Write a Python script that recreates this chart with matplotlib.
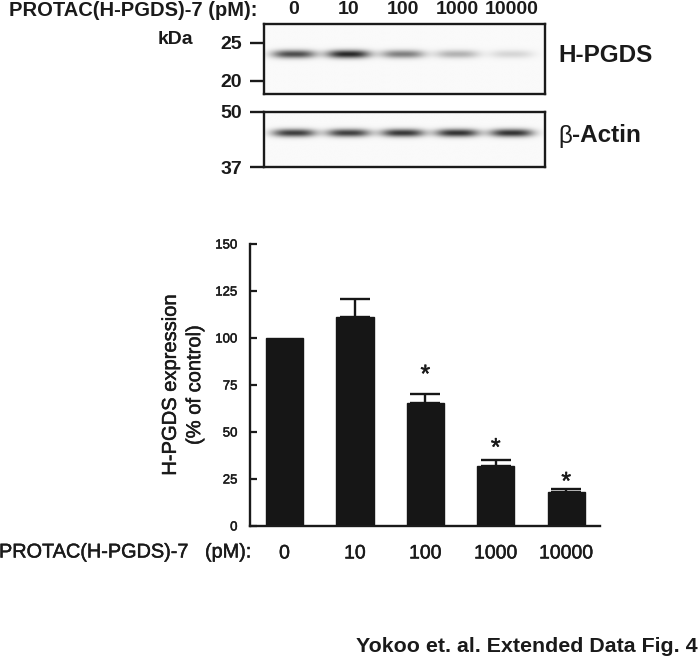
import numpy as np
import matplotlib
matplotlib.use("Agg")
import matplotlib.pyplot as plt
import matplotlib.patheffects as pe
from matplotlib import font_manager

# Densitometry: H-PGDS expression (% of control), mean and upper SEM
doses = ["0", "10", "100", "1000", "10000"]
expression = [100, 111.3, 65.6, 31.9, 17.9]
sem = [0, 9.6, 4.6, 3.0, 1.6]
significant = [False, False, True, True, True]
star_y = [0, 0, 84, 45, 27]

# Western blot band strengths (relative)
hpgds_band = [0.78, 0.95, 0.55, 0.32, 0.16]
actin_band = [0.85, 0.84, 0.88, 0.90, 0.90]
hpgds_markers = ["25", "20"]
hpgds_marker_pos = [0.73, 0.19]
actin_markers = ["50", "37"]
actin_marker_pos = [1.0, 0.0]

names = {f.name for f in font_manager.fontManager.ttflist}
base = "Liberation Sans" if "Liberation Sans" in names else "DejaVu Sans"
narrow = "Liberation Sans Narrow" if "Liberation Sans Narrow" in names else None
plt.rcParams["font.family"] = [base, "DejaVu Sans"]

# regular text in the figure looks a bit heavier than a plain regular face
heavy = [pe.withStroke(linewidth=0.35, foreground="#1a1a1a")]
ink = "#1a1a1a"

W, H = 700, 661
fig = plt.figure(figsize=(7, 6.61), dpi=100)


def fx(px):
    return px / W


def fy(py):
    return 1 - py / H


def draw_blot(ax, vals, band_y, sy, xlim):
    xs = np.linspace(xlim[0], xlim[1], 600)
    ys = np.linspace(0, 1, 160)
    X, Y = np.meshgrid(xs, ys)
    img = np.full_like(X, 0.025)
    for i, v in enumerate(vals):
        img += v * np.exp(-np.abs((X - i) / 0.40) ** 3) * np.exp(-0.5 * ((Y - band_y) / sy) ** 2)
    ax.imshow(img, cmap="gray_r", vmin=0, vmax=1.15, origin="lower",
              extent=(xlim[0], xlim[1], 0, 1), aspect="auto", interpolation="bilinear")
    ax.set_xlim(*xlim)
    ax.set_ylim(0, 1)
    for s in ax.spines.values():
        s.set_linewidth(1.7)
        s.set_color(ink)
    ax.set_xticks([])


blot_xlim = (-0.55, 4.61)

# upper blot: H-PGDS
ax1 = fig.add_axes([fx(264), fy(94), fx(281), 70 / H])
draw_blot(ax1, hpgds_band, 0.57, 0.042, blot_xlim)
ax1.set_yticks(hpgds_marker_pos)
ax1.set_yticklabels(hpgds_markers, fontweight="bold")
ax1.tick_params(axis="y", direction="out", length=10, width=1.7, pad=6, labelsize=14,
                color=ink, labelcolor=ink)
for i, d in enumerate(doses):
    ax1.text(i, 1.2, d, transform=ax1.get_xaxis_transform(), ha="center", va="center",
             fontsize=14, fontweight="bold", color=ink)

# lower blot: beta-actin
ax2 = fig.add_axes([fx(264), fy(167), fx(281), 55 / H])
draw_blot(ax2, actin_band, 0.62, 0.052, blot_xlim)
ax2.set_yticks(actin_marker_pos)
ax2.set_yticklabels(actin_markers, fontweight="bold")
ax2.tick_params(axis="y", direction="out", length=10, width=1.7, pad=6, labelsize=14,
                color=ink, labelcolor=ink)
for t in ax2.yaxis.get_major_ticks():
    t.tick1line.set_clip_on(False)

fig.text(fx(9), fy(10), "PROTAC(H-PGDS)-7 (pM):", ha="left", va="center",
         fontsize=14.5, fontweight="bold", color=ink)
fig.text(fx(175), fy(40), "kDa", ha="center", va="center", fontsize=14, fontweight="bold", color=ink)
fig.text(fx(558), fy(56), "H-PGDS", ha="left", va="center", fontsize=17.5, fontweight="bold", color=ink)
fig.text(fx(558), fy(136), "\u03b2", ha="left", va="center", fontsize=17.5, color=ink)
fig.text(fx(572), fy(136), "-Actin", ha="left", va="center", fontsize=17.5, fontweight="bold", color=ink)

# bar chart
ax = fig.add_axes([fx(250), fy(526), fx(350), 282 / H])
x = np.arange(len(doses))
bar_col = "#161616"
ax.bar(x, expression, width=0.53, color=bar_col, edgecolor=bar_col, linewidth=1)
for xi, m, e in zip(x, expression, sem):
    if e > 0:
        ax.errorbar(xi, m, yerr=[[0], [e]], fmt="none", ecolor=bar_col,
                    elinewidth=1.7, capsize=11, capthick=1.7)
for xi, s, sy in zip(x, significant, star_y):
    if s:
        ax.annotate("*", (xi, sy), xytext=(0, -10), textcoords="offset points",
                    ha="center", va="baseline", fontsize=18, color=ink, path_effects=heavy)

ax.set_xlim(-0.49, 4.48)
ax.set_ylim(0, 150)
ax.set_yticks([0, 25, 50, 75, 100, 125, 150])
ax.set_xticks(x)
ax.set_xticklabels(doses)
ax.tick_params(axis="y", direction="in", length=5, width=1.6, pad=9, labelsize=9.5,
               color=ink, labelcolor=ink)
ax.tick_params(axis="x", length=0, pad=14, labelsize=14, labelcolor=ink)
for lbl in ax.get_xticklabels() + ax.get_yticklabels():
    lbl.set_path_effects(heavy)
for side in ("top", "right"):
    ax.spines[side].set_visible(False)
for side in ("left", "bottom"):
    ax.spines[side].set_linewidth(1.7)
    ax.spines[side].set_color(ink)
ax.set_ylabel("H-PGDS expression\n(% of control)", fontsize=14.5, linespacing=1.35, labelpad=8,
              color=ink, path_effects=heavy)

fig.text(fx(-1), fy(552), "PROTAC(H-PGDS)-7   (pM):", ha="left", va="center", fontsize=14.3,
         color=ink, path_effects=heavy)

if narrow:
    fig.text(fx(698), fy(647), "Yokoo et. al. Extended Data Fig. 4", ha="right", va="center",
             fontsize=18.5, fontweight="bold", family=[narrow, base], color=ink)
else:
    fig.text(fx(698), fy(647), "Yokoo et. al. Extended Data Fig. 4", ha="right", va="center",
             fontsize=15.4, fontweight="bold", color=ink)

fig.savefig("out.png", dpi=100)
